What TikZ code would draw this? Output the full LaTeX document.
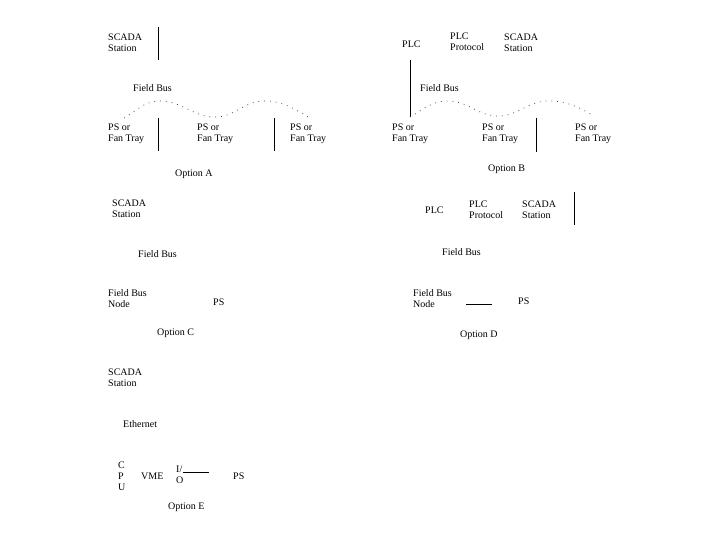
\documentclass[tikz,border=0pt]{standalone}
\usepackage{fontspec}
\setmainfont{Liberation Serif}
\usepackage{tikz}
\usetikzlibrary{positioning,calc}

\begin{document}
\begin{tikzpicture}[x=1pt, y=-1pt,
  lbl/.style={inner sep=0pt, anchor=west, align=left,
              font=\fontsize{10}{11}\selectfont},
  link/.style={line width=0.8pt, black},
  bus/.style={line width=0.8pt, black!70, dash pattern=on 0.8pt off 5pt}
]
  \useasboundingbox (0,0) rectangle (720,540);

  % Option A
  \node[lbl] (scadaA) at (108,42.5) {SCADA\\Station};
  \node[lbl] (busA) at (133,88) {Field Bus};
  \node[lbl] (psA1) at (108,134) {PS or\\Fan Tray};
  \node[lbl] (psA2) at (197,134) {PS or\\Fan Tray};
  \node[lbl] (psA3) at (290,134) {PS or\\Fan Tray};
  \node[lbl] (optA) at (175,174) {Option A};
  \coordinate (a0t) at (158,27);  \coordinate (a0b) at (158,60);
  \coordinate (a1t) at (158,118); \coordinate (a1b) at (158,151);
  \coordinate (a2t) at (274,118); \coordinate (a2b) at (274,151);
  \draw[link] (a0t) -- (a0b);
  \draw[link] (a1t) -- (a1b);
  \draw[link] (a2t) -- (a2b);
  \draw[bus] (124,118) to[out=30,in=180] (160,101) to[out=0,in=180] (215,117)
    to[out=0,in=180] (264,101) to[out=0,in=150] (310,118);

  % Option B
  \node[lbl] (plcB) at (402,44) {PLC};
  \node[lbl] (protoB) at (450,41.5) {PLC\\Protocol};
  \node[lbl] (scadaB) at (504,42.5) {SCADA\\Station};
  \node[lbl] (busB) at (420,88) {Field Bus};
  \node[lbl] (psB1) at (392,134) {PS or\\Fan Tray};
  \node[lbl] (psB2) at (482,134) {PS or\\Fan Tray};
  \node[lbl] (psB3) at (575,134) {PS or\\Fan Tray};
  \node[lbl] (optB) at (488,169) {Option B};
  \coordinate (b0t) at (410,60);  \coordinate (b0b) at (410,117);
  \coordinate (b1t) at (536,118); \coordinate (b1b) at (536,152);
  \draw[link] (b0t) -- (b0b);
  \draw[link] (b1t) -- (b1b);
  \draw[bus] (b0b) to[out=30,in=180] (448,101) to[out=0,in=180] (498,116)
    to[out=0,in=180] (548,101) to[out=0,in=150] (594,116);

  % Option C
  \node[lbl] (scadaC) at (112,208.5) {SCADA\\Station};
  \node[lbl] (busC) at (138,254) {Field Bus};
  \node[lbl] (nodeC) at (108,299) {Field Bus\\Node};
  \node[lbl] (psC) at (213,302) {PS};
  \node[lbl] (optC) at (157,333) {Option C};

  % Option D
  \node[lbl] (plcD) at (425,210) {PLC};
  \node[lbl] (protoD) at (469,210) {PLC\\Protocol};
  \node[lbl] (scadaD) at (522,210) {SCADA\\Station};
  \node[lbl] (busD) at (442,252) {Field Bus};
  \node[lbl] (nodeD) at (413,299) {Field Bus\\Node};
  \node[lbl] (psD) at (518,301) {PS};
  \node[lbl] (optD) at (460,335) {Option D};
  \coordinate (d0t) at (574,192); \coordinate (d0b) at (574,225);
  \coordinate (d1l) at (466,304); \coordinate (d1r) at (492,304);
  \draw[link] (d0t) -- (d0b);
  \draw[link] (d1l) -- (d1r);

  % Option E
  \node[lbl] (scadaE) at (108,377.5) {SCADA\\Station};
  \node[lbl] (ethE) at (123,424) {Ethernet};
  \node[lbl] (cpuE) at (118,476) {C\\P\\U};
  \node[lbl] (vmeE) at (141,476) {VME};
  \node[lbl] (ioE) at (176,474.5) {I/\\O};
  \node[lbl] (psE) at (233,476) {PS};
  \node[lbl] (optE) at (168,507) {Option E};
  \coordinate (e1l) at (183,472); \coordinate (e1r) at (209,472);
  \draw[link] (e1l) -- (e1r);
\end{tikzpicture}
\end{document}
